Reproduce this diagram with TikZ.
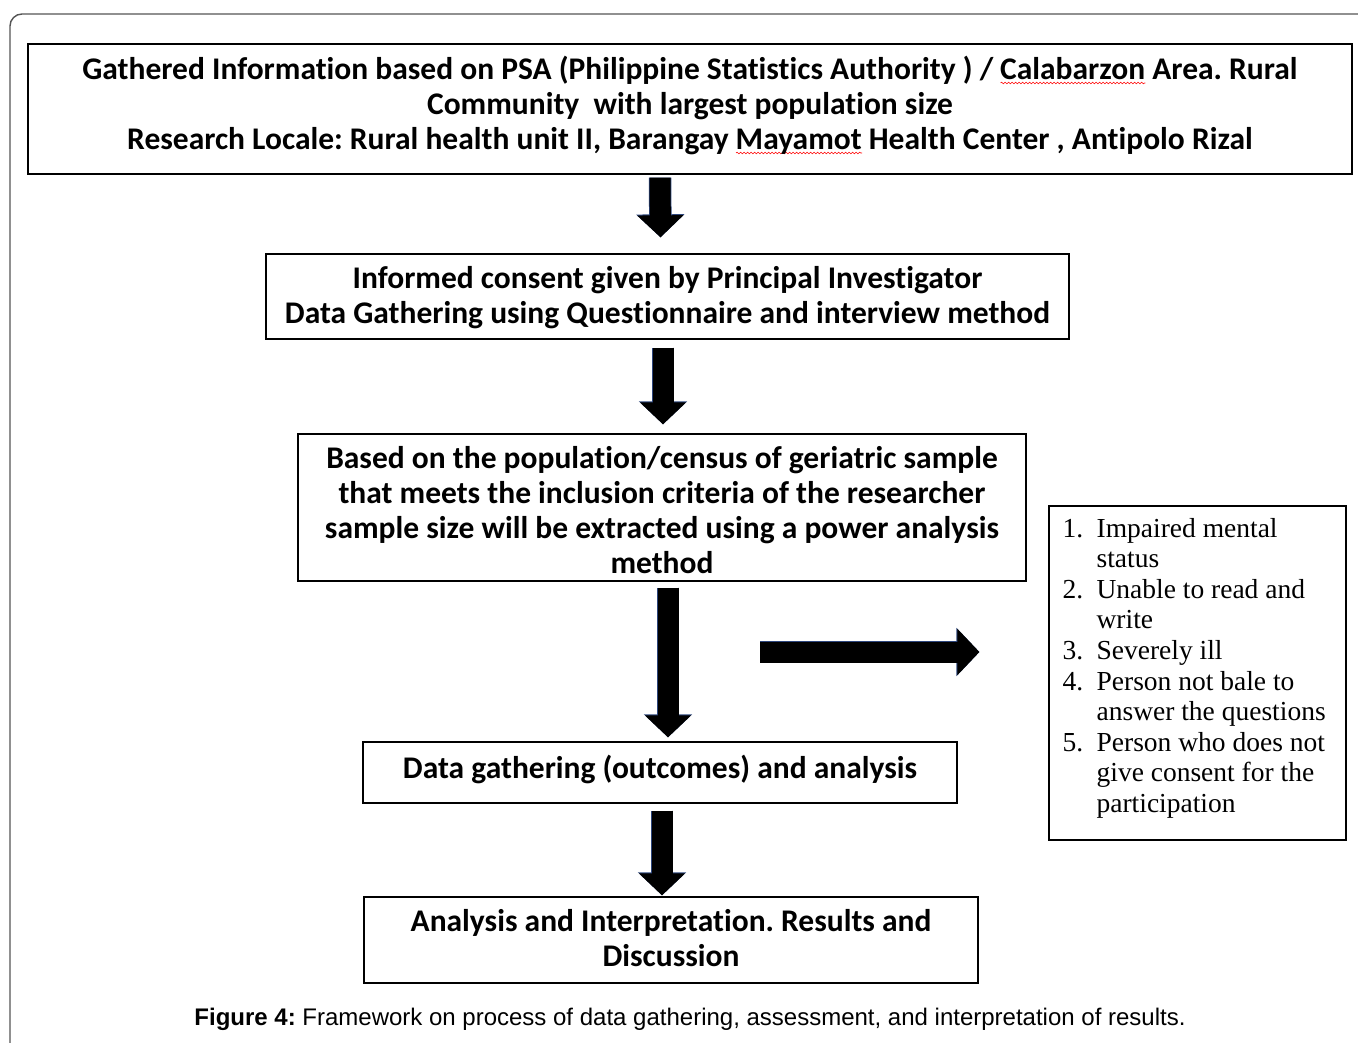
\documentclass[tikz,border=0pt]{standalone}
\usepackage{fontspec}
\setmainfont{Carlito}[Ligatures=NoCommon]
\newfontfamily\listfont{Liberation Serif}
\newfontfamily\capfont{Liberation Sans}
\usetikzlibrary{arrows.meta,calc,decorations.pathmorphing}
\definecolor{framegray}{RGB}{85,85,85}
\definecolor{arrowedge}{RGB}{45,70,125}
\frenchspacing
% red spell-check style wave under a word
\newlength\swlen
\newcommand\spellwave[1]{\settowidth\swlen{#1}%
  \rlap{\raisebox{-3.5pt}[0pt][0pt]{\tikz[baseline=0pt]\draw[red, line width=0.6pt, decorate,
     decoration={snake, amplitude=0.8pt, segment length=3.5pt}] (0pt,0pt) -- (\swlen,0pt);}}#1}
% centred lines of a step, moved up or down inside their box
\newcommand\lift[2]{\raisebox{#1}[\height][\depth]{\begin{tabular}{@{}c@{}}#2\end{tabular}}}
% exclusion list entries with a hanging indent
\newcommand\exitem[2]{\makebox[34pt][l]{#1}#2}
\newcommand\excont[1]{\hspace*{34pt}#1}
\begin{document}
\begin{tikzpicture}[x=1pt,y=-1pt,
  stepbox/.style={draw=black, line width=1.3pt, inner sep=0pt,
    font=\fontsize{31.5}{35}\selectfont\bfseries},
  blockarrow/.style={line width=21pt, draw=black,
    -{Triangle[length=22pt,width=45pt]},
    preaction={draw=arrowedge, line width=22.5pt, -{Triangle[length=23pt,width=47pt]}}}]
\useasboundingbox (0,0) rectangle (1358,1043);

% outer frame, open at right and bottom
\draw[framegray, line width=1.4pt, rounded corners=12pt] (10,1043) -- (10,14) -- (1358,14);

% process steps
\node[stepbox, minimum width=1324pt, minimum height=130pt] (b1) at (690,109)
  {\lift{1.5pt}{Gathered Information based on PSA (Philippine Statistics Authority ) / \spellwave{Calabarzon} Area. Rural\\
   Community~ with largest population size\\
   Research Locale: Rural health unit II, Barangay \spellwave{Mayamot} Health Center , Antipolo Rizal}};
\node[stepbox, minimum width=803pt, minimum height=85pt] (b2) at (667.5,296.5)
  {\lift{-2.5pt}{Informed consent given by Principal Investigator\\
   Data Gathering using Questionnaire and interview method}};
\node[stepbox, minimum width=728pt, minimum height=147pt] (b3) at (662,507.5)
  {\lift{-6.5pt}{Based on the population/census of geriatric sample\\
   that meets the inclusion criteria of the researcher\\
   sample size will be extracted using a power analysis\\
   method}};
\node[stepbox, minimum width=594pt, minimum height=61pt] (b4) at (660,772.5)
  {\lift{1.5pt}{Data gathering (outcomes) and analysis}};
\node[stepbox, minimum width=614pt, minimum height=86pt] (b5) at (671,940)
  {\lift{-1.5pt}{Analysis and Interpretation. Results and\\
   Discussion}};

% exclusion criteria
\node[draw=black, line width=1.2pt, minimum width=297pt, minimum height=334pt, inner sep=0pt] (excl) at (1197.5,673) {};
\node[anchor=north west, inner sep=0pt, align=left,
      font=\listfont\fontsize{27.5}{30.6}\selectfont] (excltext) at ($(excl.north west)+(14,12.5)$)
  {\exitem{1.}{Impaired mental}\\
   \excont{status}\\
   \exitem{2.}{Unable to read and}\\
   \excont{write}\\
   \exitem{3.}{Severely ill}\\
   \exitem{4.}{Person not bale to}\\
   \excont{answer the questions}\\
   \exitem{5.}{Person who does not}\\
   \excont{give consent for the}\\
   \excont{participation}};

% block arrows between steps
\coordinate (a1s) at ($(b1.south)+(-30,3)$);
\coordinate (a1e) at ($(b2.north)+(-7,-16)$);
\coordinate (a2s) at ($(b2.south)+(-4.5,8)$);
\coordinate (a2e) at ($(b3.north)+(1,-9)$);
\coordinate (a3s) at ($(b3.south)+(6,6)$);
\coordinate (a3e) at ($(b4.north)+(8,-4)$);
\coordinate (a4s) at ($(b4.south)+(2,7)$);
\coordinate (a4e) at ($(b5.north)+(-9,-1)$);
\coordinate (hs) at (760,652);
\coordinate (he) at ($(excl.west)+(-69,-21)$);
\draw[blockarrow] (a1s) -- (a1e);
\draw[blockarrow] (a2s) -- (a2e);
\draw[blockarrow] (a3s) -- (a3e);
\draw[blockarrow] (a4s) -- (a4e);
\draw[blockarrow] (hs) -- (he);

% caption
\node[font=\capfont\fontsize{24}{28}\selectfont] (cap) at (690,1019)
  {\textbf{Figure 4:} Framework on process of data gathering, assessment, and interpretation of results.};
\end{tikzpicture}
\end{document}
